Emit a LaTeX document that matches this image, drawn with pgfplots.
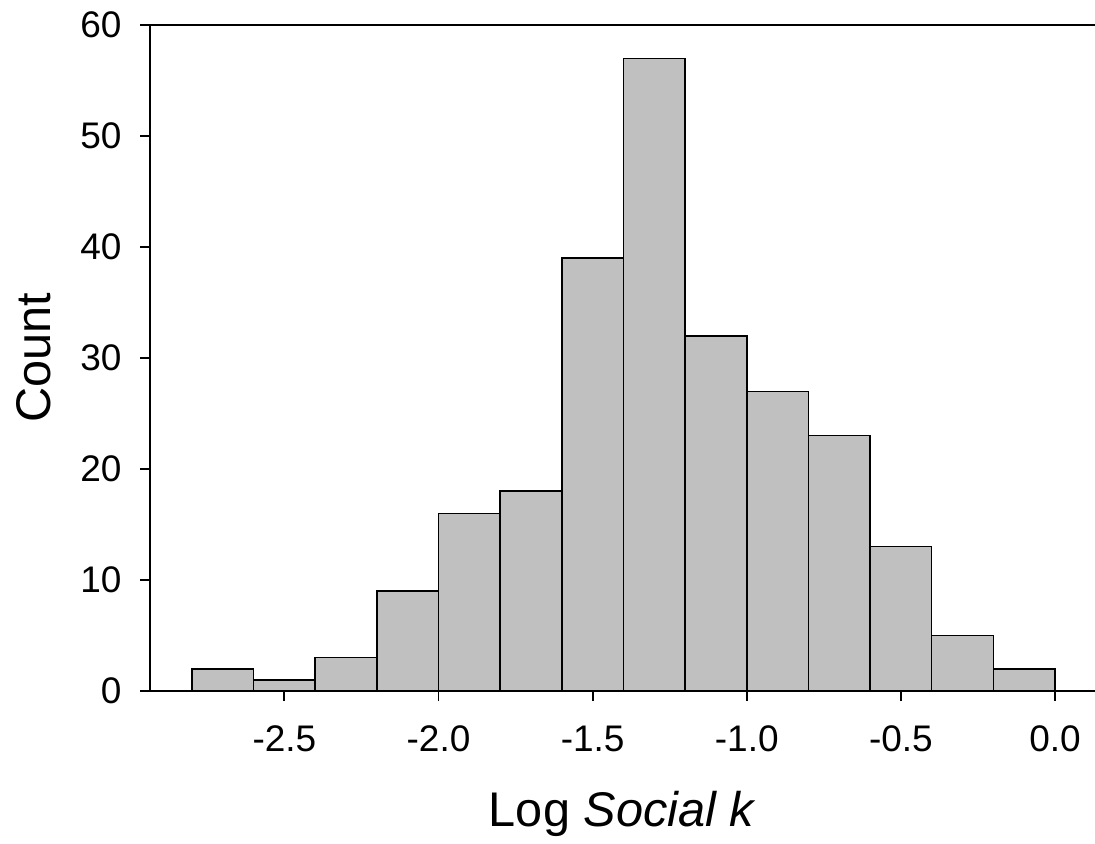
\documentclass[border=0pt]{standalone}
\usepackage{pgfplots}
\pgfplotsset{compat=1.18}
\usepackage{fontspec}
\setmainfont{Liberation Sans}

\definecolor{barfill}{RGB}{192,192,192}

\begin{document}
\begin{tikzpicture}
\begin{axis}[
  scale only axis,
  width=283.5pt, height=199.8pt,
  xmin=-2.936, xmax=0.1298,
  ymin=0, ymax=60,
  axis x line*=box, axis y line*=left,
  axis line style={line width=0.55pt},
  xtick={-2.5,-2.0,-1.5,-1.0,-0.5,0.0},
  xticklabels={-2.5,-2.0,-1.5,-1.0,-0.5,0.0},
  ytick={0,10,20,30,40,50,60},
  xtick pos=bottom, ytick pos=left,
  tick align=outside,
  major tick length=3pt,
  tick style={line width=0.55pt, black},
  /pgf/number format/assume math mode=true,
  tick label style={font=\fontsize{11.1}{13}\selectfont},
  xticklabel style={yshift=-4pt},
  yticklabel style={xshift=-2pt},
  label style={font=\fontsize{14.6}{17}\selectfont},
  xlabel={Log \textit{Social k}},
  ylabel={Count},
  xlabel style={at={(axis description cs:0.5,-0.2042)}, anchor=base},
  ylabel style={at={(axis description cs:-0.1048,0.5)}, anchor=base},
]
\addplot[ybar interval, fill=barfill, draw=black, line width=0.45pt]
  coordinates {
    (-2.8,2) (-2.6,1) (-2.4,3) (-2.2,9) (-2.0,16) (-1.8,18) (-1.6,39)
    (-1.4,57) (-1.2,32) (-1.0,27) (-0.8,23) (-0.6,13) (-0.4,5) (-0.2,2)
    (0.0,2)
  };
\end{axis}
\pgfresetboundingbox
\path (-45pt,-45.9pt) rectangle (283.5pt,207.3pt);
\end{tikzpicture}
\end{document}
